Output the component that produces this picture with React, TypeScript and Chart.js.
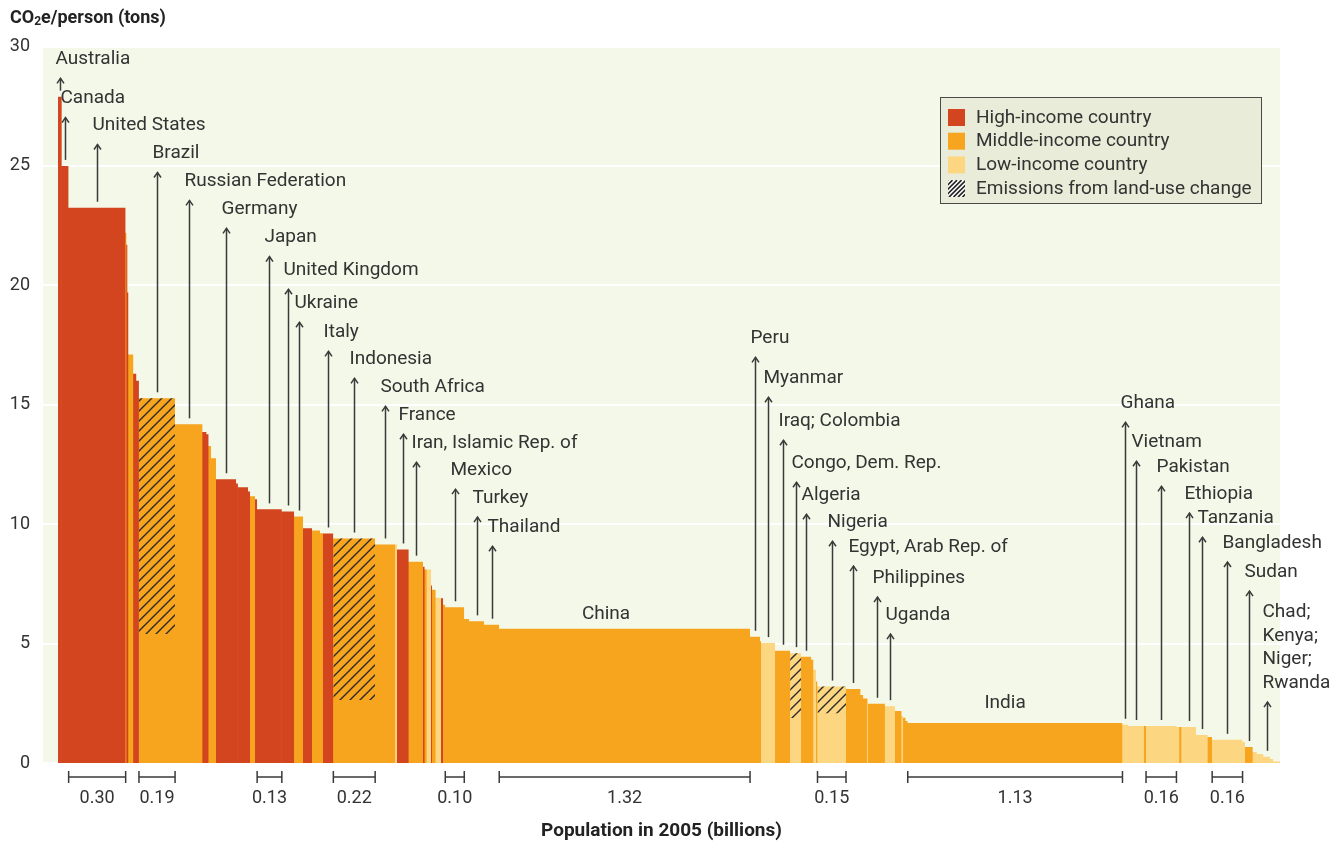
import { useEffect, useRef } from "react";
import { Chart, registerables } from "chart.js";

Chart.register(...registerables);

// ---------- data ----------
const countryNames: string[] = [
  "Australia", "Canada", "United States", "", "", "", "", "", "",
  "Brazil", "Russian Federation", "", "", "", "",
  "Germany", "", "", "", "", "",
  "Japan", "United Kingdom", "Ukraine", "", "", "", "Italy",
  "Indonesia", "South Africa", "", "France", "Iran, Islamic Rep. of",
  "", "", "", "", "", "", "", "",
  "Mexico", "", "Turkey", "Thailand", "China",
  "Peru", "", "Myanmar", "Iraq; Colombia", "Congo, Dem. Rep.", "Algeria", "", "", "",
  "Nigeria", "Egypt, Arab Rep. of", "", "", "", "Philippines", "Uganda", "", "", "", "",
  "India", "Ghana", "Vietnam", "", "Pakistan", "", "", "Ethiopia", "Tanzania", "",
  "Bangladesh", "", "Sudan", "", "", "Chad;\nKenya;\nNiger;\nRwanda", "", "",
];

const populationBillions: number[] = [
  0.020, 0.036, 0.300, 0.005, 0.005, 0.005, 0.026, 0.016, 0.013,
  0.190, 0.145, 0.021, 0.011, 0.013, 0.026,
  0.105, 0.010, 0.053, 0.011, 0.026, 0.011,
  0.130, 0.065, 0.047, 0.047, 0.042, 0.016, 0.054,
  0.220, 0.106, 0.009, 0.062, 0.075,
  0.009, 0.011, 0.023, 0.005, 0.019, 0.028, 0.011, 0.011,
  0.100, 0.026, 0.079, 0.079, 1.320,
  0.053, 0.005, 0.074, 0.079, 0.058, 0.053, 0.012, 0.014, 0.007,
  0.150, 0.077, 0.014, 0.021, 0.004, 0.089, 0.053, 0.035, 0.008, 0.013, 0.011,
  1.130, 0.029, 0.084, 0.011, 0.160, 0.016, 0.011, 0.077, 0.061, 0.023,
  0.160, 0.013, 0.041, 0.021, 0.035, 0.035, 0.017, 0.035,
];

const co2PerPerson: number[] = [
  27.9, 25.0, 23.25, 22.2, 21.7, 19.7, 17.1, 16.3, 16.0,
  15.27, 14.18, 13.86, 13.76, 13.27, 12.76,
  11.88, 11.7, 11.55, 11.37, 11.17, 11.04,
  10.62, 10.53, 10.32, 9.83, 9.73, 9.62, 9.61,
  9.40, 9.15, 9.15, 8.94, 8.43,
  8.22, 8.10, 8.10, 7.43, 7.25, 6.92, 6.90, 6.63,
  6.52, 6.03, 5.93, 5.79, 5.62,
  5.29, 5.10, 5.02, 4.70, 4.60, 4.45, 4.32, 3.90, 3.41,
  3.20, 3.10, 2.85, 2.70, 2.70, 2.48, 2.38, 2.18, 1.97, 1.89, 1.76,
  1.68, 1.60, 1.55, 1.55, 1.55, 1.51, 1.51, 1.51, 1.17, 1.09,
  0.97, 0.88, 0.67, 0.46, 0.38, 0.26, 0.17, 0.06,
];

// H = high income, M = middle income, L = low income
const incomeGroup: string[] = [
  "H", "H", "H", "M", "H", "H", "M", "H", "H",
  "M", "M", "H", "H", "M", "M",
  "H", "H", "H", "H", "M", "H",
  "H", "H", "M", "H", "M", "M", "H",
  "M", "M", "L", "H", "M",
  "H", "M", "L", "H", "M", "L", "H", "M",
  "M", "M", "M", "M", "M",
  "M", "M", "L", "M", "L", "M", "M", "L", "M",
  "L", "M", "M", "M", "L", "M", "L", "M", "L", "M", "M",
  "M", "L", "L", "M", "L", "L", "M", "L", "L", "M",
  "L", "L", "M", "L", "L", "L", "L", "L",
];

// emissions above this level come from land-use change (hatched)
const landUseCountries: string[] = ["Brazil", "Indonesia", "Congo, Dem. Rep.", "Nigeria"];
const landUseFloor: number[] = [5.4, 2.64, 1.88, 2.08];

const calloutCountries: string[] = [
  "Australia", "Canada", "United States", "Brazil", "Russian Federation", "Germany",
  "Japan", "United Kingdom", "Ukraine", "Italy", "Indonesia", "South Africa", "France",
  "Iran, Islamic Rep. of", "Mexico", "Turkey", "Thailand",
  "Peru", "Myanmar", "Iraq; Colombia", "Congo, Dem. Rep.", "Algeria", "Nigeria",
  "Egypt, Arab Rep. of", "Philippines", "Uganda",
  "Ghana", "Vietnam", "Pakistan", "Ethiopia", "Tanzania", "Bangladesh", "Sudan",
  "Chad;\nKenya;\nNiger;\nRwanda",
];
const calloutLabelTons: number[] = [
  29.46, 27.82, 26.69, 25.52, 24.35, 23.18,
  22.0, 20.63, 19.25, 18.03, 16.9, 15.73, 14.56,
  13.39, 12.26, 11.09, 9.87,
  17.78, 16.11, 14.31, 12.55, 11.21, 10.08,
  9.04, 7.74, 6.19,
  15.06, 13.43, 12.38, 11.26, 10.25, 9.21, 7.99,
  6.32,
];

const inlineLabelCountries: string[] = ["China", "India"];
const inlineLabelX: number[] = [2.884, 4.984];
const inlineLabelTons: number[] = [6.23, 2.51];

const bracketCountries: string[] = [
  "United States", "Brazil", "Japan", "Indonesia", "Mexico",
  "China", "Nigeria", "India", "Pakistan", "Bangladesh",
];

const legendLabels: string[] = [
  "High-income country",
  "Middle-income country",
  "Low-income country",
  "Emissions from land-use change",
];

// ---------- styles ----------
const COLORS: Record<string, string> = { H: "#D2451F", M: "#F7A51F", L: "#FDD681" };
const PLOT_BG = "#F3F8E8";
const TEXT = "#333333";
const FONT = "Roboto";
const SEAM = 0.004; // tiny leftward overlap hidden under the previous bar

export default function App() {
  const canvasRef = useRef<HTMLCanvasElement | null>(null);

  useEffect(() => {
    const canvas = canvasRef.current;
    if (!canvas) return;
    const ctx0 = canvas.getContext("2d")!;

    // hatch pattern
    const pc = document.createElement("canvas");
    pc.width = 10;
    pc.height = 10;
    const pg = pc.getContext("2d")!;
    pg.strokeStyle = "#2a2a2a";
    pg.lineWidth = 1.4;
    pg.beginPath();
    pg.moveTo(-1, 11); pg.lineTo(11, -1);
    pg.moveTo(-6, 6); pg.lineTo(6, -6);
    pg.moveTo(4, 16); pg.lineTo(16, 4);
    pg.stroke();
    const hatch = ctx0.createPattern(pc, "repeat")!;

    // cumulative positions
    const starts: number[] = [];
    let acc = 0;
    for (const p of populationBillions) {
      starts.push(acc);
      acc += p;
    }
    const total = acc;
    const xMin = -0.079;
    const idx = (n: string) => countryNames.indexOf(n);

    const barSets: any[] = co2PerPerson.map((v, i) => ({
      data: [
        { x: i === 0 ? starts[i] : starts[i] - SEAM, y: v },
        { x: starts[i] + populationBillions[i], y: v },
      ],
      backgroundColor: COLORS[incomeGroup[i]],
      borderWidth: 0,
      pointRadius: 0,
      fill: "origin",
      order: 2,
    }));
    const hatchSets: any[] = landUseCountries.map((n, k) => {
      const i = idx(n);
      return {
        data: [
          { x: starts[i], y: co2PerPerson[i] },
          { x: starts[i] + populationBillions[i], y: co2PerPerson[i] },
        ],
        backgroundColor: hatch,
        borderWidth: 0,
        pointRadius: 0,
        fill: { value: landUseFloor[k] },
        order: 1,
      };
    });

    const decor = {
      id: "decor",
      beforeDraw(chart: any) {
        const { ctx, chartArea } = chart;
        ctx.save();
        ctx.fillStyle = PLOT_BG;
        ctx.fillRect(chartArea.left, chartArea.top, chartArea.right - chartArea.left, chartArea.bottom - chartArea.top);
        ctx.restore();
      },
      afterDraw(chart: any) {
        const { ctx, chartArea } = chart;
        const xs = chart.scales.x;
        const ys = chart.scales.y;
        ctx.save();

        // y-axis title with subscript
        ctx.fillStyle = "#222";
        ctx.textBaseline = "middle";
        ctx.textAlign = "left";
        let tx = 10;
        const ty = 18;
        ctx.font = `bold 18px ${FONT}`;
        ctx.fillText("CO", tx, ty);
        tx += ctx.measureText("CO").width;
        ctx.font = `bold 12px ${FONT}`;
        ctx.fillText("2", tx, ty + 4);
        tx += ctx.measureText("2").width;
        ctx.font = `bold 18px ${FONT}`;
        ctx.fillText("e/person (tons)", tx, ty);

        // callouts
        ctx.strokeStyle = "#3a3a3a";
        ctx.fillStyle = TEXT;
        ctx.lineWidth = 1.5;
        ctx.font = `19px ${FONT}`;
        const lineGap = 23.7;
        calloutCountries.forEach((n, k) => {
          const i = idx(n);
          if (i < 0) return;
          const x0 = xs.getPixelForValue(starts[i]);
          const x1 = xs.getPixelForValue(starts[i] + populationBillions[i]);
          const ax = Math.round((x0 + x1) / 2) + 0.5;
          const barTop = ys.getPixelForValue(co2PerPerson[i]);
          const ly = ys.getPixelForValue(calloutLabelTons[k]);
          const lines = n.split("\n");
          lines.forEach((t, j) => {
            ctx.fillText(t, ax - 5, ly + j * lineGap);
          });
          const tip = ly + (lines.length - 1) * lineGap + 19;
          const base = barTop - 6;
          ctx.beginPath();
          ctx.moveTo(ax, base);
          ctx.lineTo(ax, tip);
          ctx.stroke();
          ctx.beginPath();
          ctx.moveTo(ax - 3.5, tip + 5);
          ctx.lineTo(ax, tip);
          ctx.lineTo(ax + 3.5, tip + 5);
          ctx.stroke();
        });

        // inline labels
        ctx.textAlign = "center";
        inlineLabelCountries.forEach((n, k) => {
          ctx.fillText(n, xs.getPixelForValue(inlineLabelX[k]), ys.getPixelForValue(inlineLabelTons[k]));
        });

        // population brackets
        ctx.font = `18px ${FONT}`;
        const by = chartArea.bottom + 14;
        bracketCountries.forEach((n) => {
          const i = idx(n);
          const x0 = xs.getPixelForValue(starts[i]);
          const x1 = xs.getPixelForValue(starts[i] + populationBillions[i]);
          ctx.beginPath();
          ctx.moveTo(x0, by);
          ctx.lineTo(x1, by);
          ctx.moveTo(x0, by - 6);
          ctx.lineTo(x0, by + 6);
          ctx.moveTo(x1, by - 6);
          ctx.lineTo(x1, by + 6);
          ctx.stroke();
          ctx.fillText(populationBillions[i].toFixed(2), (x0 + x1) / 2, by + 21);
        });

        // legend
        const lx = 940.5, lyTop = 97.5, lw = 321, lh = 106;
        ctx.fillStyle = "#E9ECD8";
        ctx.fillRect(lx, lyTop, lw, lh);
        ctx.strokeStyle = "#4a4a4a";
        ctx.lineWidth = 1;
        ctx.strokeRect(lx, lyTop, lw, lh);
        ctx.textAlign = "left";
        ctx.font = `19px ${FONT}`;
        const swatches = [COLORS.H, COLORS.M, COLORS.L];
        legendLabels.forEach((t, k) => {
          const cy = 117 + k * 23.7;
          const sx = 948, sy = cy - 8, s = 17;
          if (k < 3) {
            ctx.fillStyle = swatches[k];
            ctx.fillRect(sx, sy, s, s);
          } else {
            ctx.fillStyle = "#ffffff";
            ctx.fillRect(sx, sy, s, s);
            ctx.save();
            ctx.beginPath();
            ctx.rect(sx, sy, s, s);
            ctx.clip();
            ctx.strokeStyle = "#222";
            ctx.lineWidth = 1.6;
            for (let d = -s; d <= s; d += 4.5) {
              ctx.beginPath();
              ctx.moveTo(sx + d, sy + s);
              ctx.lineTo(sx + d + s, sy);
              ctx.stroke();
            }
            ctx.restore();
          }
          ctx.fillStyle = TEXT;
          ctx.fillText(t, 976, cy + 1);
        });

        ctx.restore();
      },
    };

    const chart = new Chart(canvas, {
      type: "line",
      data: { datasets: [...barSets, ...hatchSets] },
      options: {
        responsive: false,
        animation: false,
        events: [],
        layout: { padding: { top: 46.5, right: 64, bottom: 0, left: 0 } },
        plugins: { legend: { display: false }, tooltip: { enabled: false } },
        scales: {
          x: {
            type: "linear",
            min: xMin,
            max: total,
            ticks: { display: false },
            grid: { display: false, drawTicks: false },
            border: { display: false },
            title: {
              display: true,
              text: "Population in 2005 (billions)",
              color: "#222",
              font: { family: FONT, size: 19, weight: "bold" },
              padding: { top: 0, bottom: 0 },
            },
            afterFit: (s: any) => {
              s.height = 80;
            },
          },
          y: {
            min: 0,
            max: 30,
            ticks: { stepSize: 5, padding: 13, color: TEXT, font: { family: FONT, size: 18 } },
            grid: { color: "#ffffff", lineWidth: 2, drawTicks: false },
            border: { display: false },
            afterFit: (s: any) => {
              s.width = 43;
            },
          },
        },
      },
      plugins: [decor],
    } as any);

    return () => chart.destroy();
  }, []);

  return (
    <div style={{ position: "absolute", left: 0, top: 0, width: 1344, height: 843, background: "#fff" }}>
      <canvas ref={canvasRef} width={1344} height={843} style={{ display: "block" }} />
    </div>
  );
}
